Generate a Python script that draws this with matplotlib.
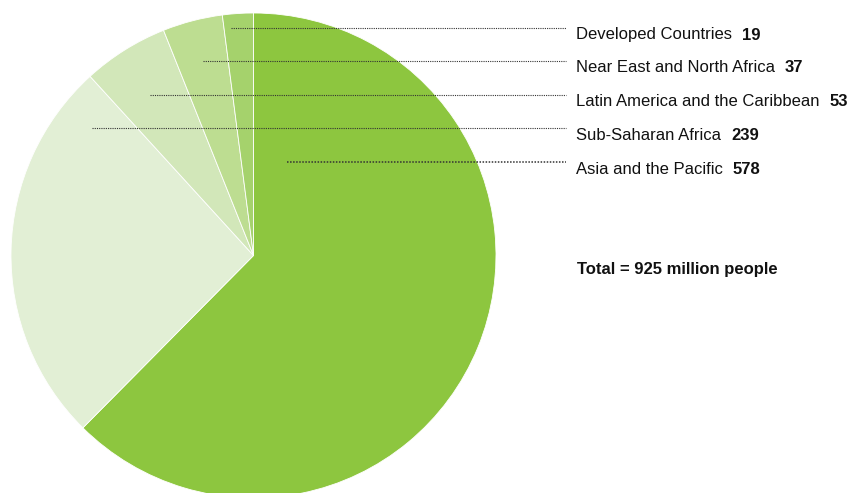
import matplotlib
matplotlib.use("Agg")
import matplotlib.pyplot as plt

plt.rcParams['font.family'] = ['Liberation Sans', 'DejaVu Sans']

# regiones y millones de personas subnutridas
regions = ["Asia and the Pacific", "Sub-Saharan Africa",
           "Latin America and the Caribbean", "Near East and North Africa",
           "Developed Countries"]
values = [578, 239, 53, 37, 19]
colors = ["#8dc63f", "#e2efd5", "#d2e7b9", "#bddd91", "#a5d26c"]
total_text = "Total = 925 million people"

# orden de las etiquetas (de arriba a abajo) y donde empieza la linea guia
label_order = [4, 3, 2, 1, 0]
label_y = [28, 61, 95, 128, 162]
line_start_x = [231, 203, 150, 92, 287]

W, H = 848, 493
fig = plt.figure(figsize=(W / 100, H / 100), dpi=100)
ax = fig.add_axes([0, 0, 1, 1])

# pie: con el eje y invertido, counterclock=True se ve en sentido horario
ax.pie(values, colors=colors, startangle=-90, counterclock=True,
       center=(253.5, 255.5), radius=242.5,
       wedgeprops=dict(edgecolor='white', linewidth=0.6), frame=True)
ax.set_xlim(0, W)
ax.set_ylim(H, 0)
ax.set_aspect('equal')
ax.axis('off')

renderer = fig.canvas.get_renderer()
for idx, y, x0 in zip(label_order, label_y, line_start_x):
    lw = 1.1 if idx == 0 else 0.8
    ax.plot([x0, 566], [y, y], color='#333333', lw=lw, ls=(0, (1, 1)))
    t = ax.text(576, y + 11.5, regions[idx], fontsize=12, va='baseline',
                ha='left', color='#111111')
    bb = t.get_window_extent(renderer)
    ax.text(bb.x1 + 10, y + 11.5, str(values[idx]), fontsize=12,
            fontweight='bold', va='baseline', ha='left', color='#111111')

ax.text(577, 274, total_text, fontsize=12, fontweight='bold',
        va='baseline', ha='left', color='#111111')

fig.savefig("out.png", dpi=100)
